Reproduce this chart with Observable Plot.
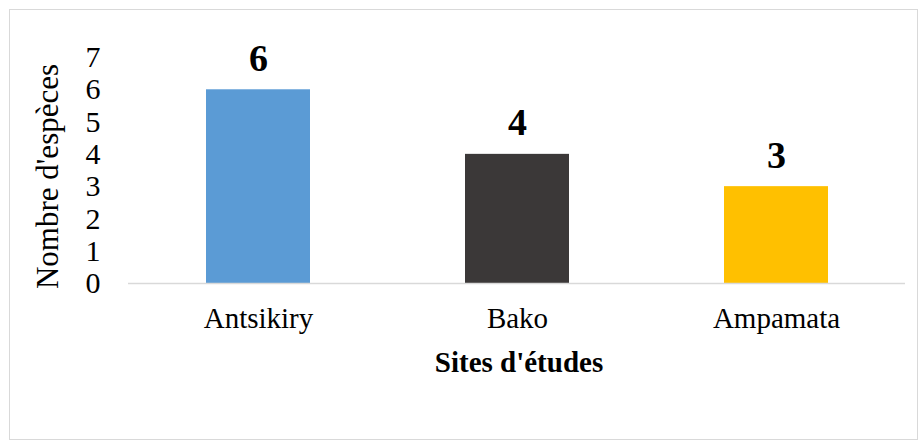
<!DOCTYPE html>
<html>
<head>
<meta charset="utf-8">
<script src="https://cdn.jsdelivr.net/npm/d3@7"></script>
<script src="https://cdn.jsdelivr.net/npm/@observablehq/plot@0.6"></script>
<style>
  html, body { margin: 0; padding: 0; background: #fff; }
  #wrap { position: relative; width: 919px; height: 441px; }
  #border { position: absolute; left: 9px; top: 9px; width: 907px; height: 429px; border: 1.5px solid #d9d9d9; pointer-events: none; }
</style>
</head>
<body>
<div id="wrap"><div id="border"></div></div>
<script>
const sites = ["Antsikiry", "Bako", "Ampamata"];
const counts = [6, 4, 3];
const colors = ["#5B9BD5", "#3B3838", "#FFC000"];
const yTicks = [0, 1, 2, 3, 4, 5, 6, 7];
const yTitle = "Nombre d'espèces";
const xTitle = "Sites d'études";

const data = sites.map((s, i) => ({site: s, value: counts[i], color: colors[i]}));

const chart = Plot.plot({
  width: 919,
  height: 441,
  marginLeft: 128,
  marginRight: 14,
  marginTop: 57,
  marginBottom: 158,
  style: {fontFamily: "'Liberation Serif', 'Times New Roman', serif", color: "#000", background: "transparent"},
  x: {domain: sites, paddingInner: 0.6, paddingOuter: 0.3, label: null},
  y: {domain: [0, 7], label: null},
  marks: [
    Plot.barY(data, {x: "site", y: "value", fill: "color"}),
    Plot.ruleY([0], {stroke: "#d9d9d9", strokeWidth: 1.5}),
    Plot.axisY({ticks: yTicks, tickSize: 0, tickPadding: 28, fontSize: 30, tickFormat: d3.format("d"), label: null}),
    Plot.axisX({tickSize: 0, tickPadding: 24, fontSize: 29, label: null}),
    Plot.text(data, {x: "site", y: "value", text: d => String(d.value), lineAnchor: "bottom", dy: -19, fontSize: 38, fontWeight: "bold"}),
    Plot.text([yTitle], {text: d => d, frameAnchor: "left", rotate: -90, dx: -80, dy: 6, fontSize: 31, textAnchor: "middle", lineAnchor: "middle"}),
    Plot.text([xTitle], {text: d => d, frameAnchor: "bottom", dx: 2, dy: 79, fontSize: 29, fontWeight: "bold", textAnchor: "middle", lineAnchor: "middle", letterSpacing: "0.6px"})
  ]
});
document.getElementById("wrap").appendChild(chart);
</script>
</body>
</html>
